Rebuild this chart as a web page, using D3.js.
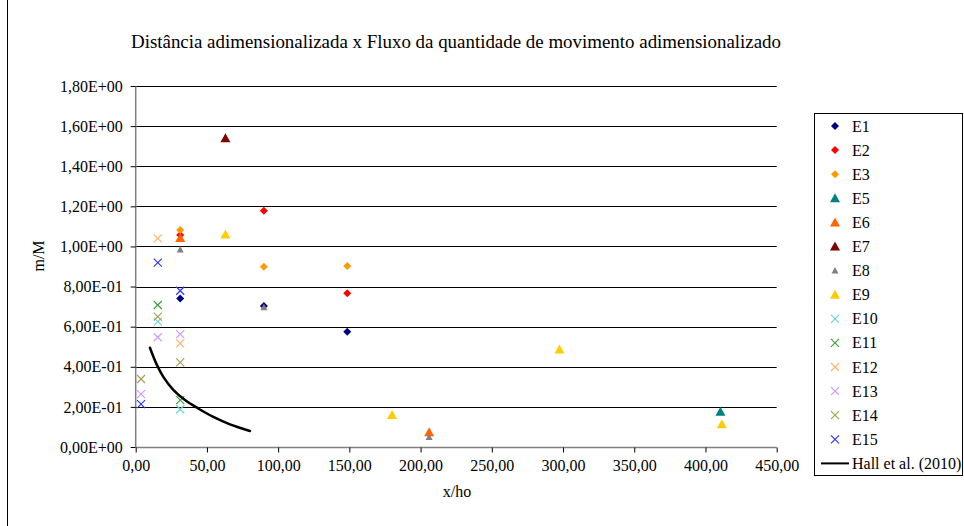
<!DOCTYPE html>
<html><head><meta charset="utf-8">
<script src="https://cdn.jsdelivr.net/npm/d3@7"></script>
<style>body{margin:0;background:#fff}svg{display:block}text{font-family:"Liberation Serif","Times New Roman",serif;fill:#000}</style>
</head><body><svg id="c" width="964" height="526"></svg>
<script>
// ---- data ----
const seriesNames = ["E1","E2","E3","E5","E6","E7","E8","E9","E10","E11","E12","E13","E14","E15"];
const seriesColors = ["#000080","#FF0000","#FF9900","#008080","#FF6600","#800000","#808080","#FFCC00","#66D9D0","#3DA03D","#FFB366","#CC99FF","#A8A050","#3333FF"];
const seriesShapes = ["diamond","diamond","diamond","triangle","triangle","triangle","smalltri","triangle","cross","cross","cross","cross","cross","cross"];
const E1 = [[31.25,0.741],[90,0.703],[148.5,0.575]];
const E2 = [[31.25,1.057],[90,1.178],[148.5,0.766]];
const E3 = [[31.25,1.082],[90,0.899],[148.5,0.902]];
const E5 = [[410.5,0.176]];
const E6 = [[31.25,1.042],[206,0.074]];
const E7 = [[63,1.539]];
const E8 = [[31.25,0.985],[90,0.697],[206,0.050]];
const E9 = [[63,1.060],[180,0.160],[297.5,0.486],[411.5,0.113]];
const E10 = [[15.5,0.625],[31.25,0.188]];
const E11 = [[15.5,0.708],[31.25,0.234]];
const E12 = [[15.5,1.040],[31.25,0.517]];
const E13 = [[3.75,0.264],[15.5,0.547],[31.25,0.563]];
const E14 = [[3.75,0.339],[15.5,0.650],[31.25,0.422]];
const E15 = [[3.75,0.214],[15.5,0.919],[31.25,0.779]];
const hallName = "Hall et al. (2010)";
const hall = [[10.0,0.495],[14.7,0.412],[19.4,0.350],[26.4,0.285],[34.6,0.234],[43.9,0.192],[54.5,0.150],[66.2,0.113],[80.2,0.080]];
const xTicks = [0,50,100,150,200,250,300,350,400,450];
const yTicks = [0,0.2,0.4,0.6,0.8,1.0,1.2,1.4,1.6,1.8];
const title = "Distância adimensionalizada x Fluxo da quantidade de movimento adimensionalizado";
const xLabel = "x/ho", yLabel = "m/M";
const seriesData = [E1,E2,E3,E5,E6,E7,E8,E9,E10,E11,E12,E13,E14,E15];

// ---- drawing ----
const svg = d3.select("#c");
const x = d3.scaleLinear().domain([0,450]).range([135.7,776.7]);
const y = d3.scaleLinear().domain([0,1.8]).range([447,86]);

svg.append("line").attr("x1",7.5).attr("x2",7.5).attr("y1",0).attr("y2",526).attr("stroke","#000").attr("stroke-width",1);

svg.append("text").attr("x",456).attr("y",48).attr("text-anchor","middle")
  .attr("font-size",18).attr("textLength",650).attr("lengthAdjust","spacingAndGlyphs").text(title);

// gridlines
svg.append("g").selectAll("line").data(yTicks.filter(d=>d>0)).join("line")
  .attr("x1",x(0)).attr("x2",x(450)).attr("y1",d=>Math.round(y(d))+0.5).attr("y2",d=>Math.round(y(d))+0.5)
  .attr("stroke","#000").attr("stroke-width",1);

function sci(v){
  if(v===0) return "0,00E+00";
  const e = Math.floor(Math.log10(v)+1e-9);
  const m = v/Math.pow(10,e);
  return m.toFixed(2).replace(".",",")+"E"+(e<0?"-":"+")+String(Math.abs(e)).padStart(2,"0");
}
const yAxis = d3.axisLeft(y).tickValues(yTicks).tickFormat(sci).tickSize(5).tickPadding(8);
const gy = svg.append("g").attr("transform","translate("+x(0)+",0)").call(yAxis);
const xAxis = d3.axisBottom(x).tickValues(xTicks).tickFormat(d=>d.toFixed(2).replace(".",",")).tickSize(5).tickPadding(7);
const gx = svg.append("g").attr("transform","translate(0,"+(Math.round(y(0))+0.5)+")").call(xAxis);
[gx,gy].forEach(g=>{
  g.attr("font-family",null);
  g.select(".domain").attr("stroke","#808080").attr("stroke-width",1.5);
  g.selectAll(".tick line").attr("stroke","#000");
  g.selectAll(".tick text").attr("font-size",16).attr("fill","#000");
});
gx.select(".domain").attr("d","M"+x(0)+",0H"+x(450));
gy.select(".domain").attr("d","M0,"+y(1.8)+"V"+y(0));

svg.append("text").attr("x",457).attr("y",497).attr("text-anchor","middle").attr("font-size",16).text(xLabel);
svg.append("text").attr("transform","translate(44,256) rotate(-90)").attr("text-anchor","middle").attr("font-size",16).text(yLabel);

// markers
function drawMarker(g, shape, color, cx, cy){
  if(shape==="diamond"){
    g.append("path").attr("d",`M${cx},${cy-4}L${cx+4},${cy}L${cx},${cy+4}L${cx-4},${cy}Z`).attr("fill",color);
  } else if(shape==="triangle"){
    g.append("path").attr("d",`M${cx},${cy-5}L${cx+5},${cy+4}L${cx-5},${cy+4}Z`).attr("fill",color);
  } else if(shape==="smalltri"){
    g.append("path").attr("d",`M${cx},${cy-3.5}L${cx+3.5},${cy+3}L${cx-3.5},${cy+3}Z`).attr("fill",color);
  } else {
    g.append("path").attr("d",`M${cx-4},${cy-4}L${cx+4},${cy+4}M${cx+4},${cy-4}L${cx-4},${cy+4}`).attr("stroke",color).attr("stroke-width",1.2).attr("fill","none");
  }
}
const gm = svg.append("g");
seriesData.forEach((arr,i)=>{
  arr.forEach(p=>drawMarker(gm, seriesShapes[i], seriesColors[i], x(p[0]), y(p[1])));
});

// Hall curve
svg.append("path").datum(hall)
  .attr("d",d3.line().x(d=>x(d[0])).y(d=>y(d[1])).curve(d3.curveCatmullRom.alpha(0.5)))
  .attr("fill","none").attr("stroke","#000").attr("stroke-width",2.5).attr("stroke-linecap","round");

// legend
const lg = svg.append("g");
lg.append("rect").attr("x",814.5).attr("y",113.5).attr("width",148).attr("height",362).attr("fill","#fff").attr("stroke","#000").attr("stroke-width",1);
const step = 24.1, y0 = 126;
seriesNames.forEach((n,i)=>{
  const yy = y0 + i*step;
  drawMarker(lg, seriesShapes[i], seriesColors[i], 835, yy);
  lg.append("text").attr("x",852).attr("y",yy+5.5).attr("font-size",16).text(n);
});
const hy = y0 + seriesNames.length*step;
lg.append("line").attr("x1",821).attr("x2",849).attr("y1",hy).attr("y2",hy).attr("stroke","#000").attr("stroke-width",2);
lg.append("text").attr("x",852).attr("y",hy+5.5).attr("font-size",16).text(hallName);
</script></body></html>
